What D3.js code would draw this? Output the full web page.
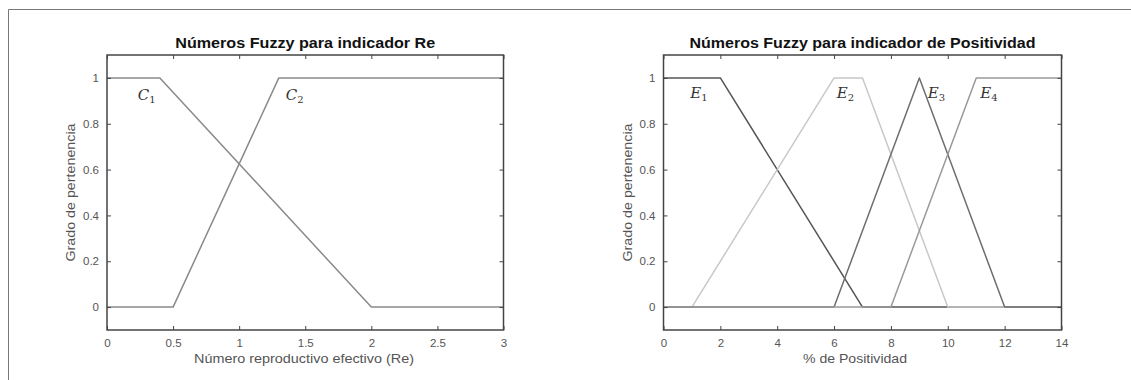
<!DOCTYPE html>
<html>
<head>
<meta charset="utf-8">
<script src="https://cdn.jsdelivr.net/npm/d3@7"></script>
<style>
  body { margin: 0; background: #fff; }
  svg text { font-family: "Liberation Sans", Arial, sans-serif; }
</style>
</head>
<body>
<svg id="chart" width="1131" height="380"></svg>
<script>
// membership functions, Re indicator
const reTicks = [0, 0.5, 1, 1.5, 2, 2.5, 3];
const c1 = [[0, 1], [0.4, 1], [2, 0], [3, 0]];
const c2 = [[0, 0], [0.5, 0], [1.3, 1], [3, 1]];

// membership functions, positividad indicator
const posTicks = [0, 2, 4, 6, 8, 10, 12, 14];
const e1 = [[0, 1], [2, 1], [7, 0], [14, 0]];
const e2 = [[0, 0], [1, 0], [6, 1], [7, 1], [10, 0], [14, 0]];
const e3 = [[0, 0], [6, 0], [9, 1], [12, 0], [14, 0]];
const e4 = [[0, 0], [8, 0], [11, 1], [14, 1]];

const yTicks = [0, 0.2, 0.4, 0.6, 0.8, 1];

const svg = d3.select('#chart');

// outer frame (only top + left are in view)
svg.append('path')
  .attr('d', 'M8.5,380 V9.5 H1131')
  .attr('fill', 'none')
  .attr('stroke', '#777')
  .attr('stroke-width', 1);

function panel(opt) {
  const x = d3.scaleLinear().domain(opt.xDomain).range([opt.left, opt.right]);
  const y = d3.scaleLinear().domain([-0.1, 1.1]).range([330, 55]);
  const g = svg.append('g');

  // series
  const line = d3.line().x(d => x(d[0])).y(d => y(d[1]));
  opt.series.forEach(s => {
    g.append('path')
      .datum(s.data)
      .attr('d', line)
      .attr('fill', 'none')
      .attr('stroke', s.color)
      .attr('stroke-width', 1.5)
      .attr('stroke-linejoin', 'round');
  });

  // axes, MATLAB-like box with inward ticks on every side
  const tick = 4;
  const styleAxis = a => {
    a.select('.domain').remove();
    a.selectAll('.tick line').attr('stroke', '#444');
    a.selectAll('.tick text').attr('fill', '#555').attr('font-size', 11.5);
  };
  g.append('g').attr('transform', 'translate(0,330)')
    .call(d3.axisBottom(x).tickValues(opt.xTicks).tickSizeInner(-tick).tickPadding(9).tickFormat(d3.format('')))
    .call(styleAxis);
  g.append('g').attr('transform', 'translate(0,55)')
    .call(d3.axisTop(x).tickValues(opt.xTicks).tickSizeInner(-tick).tickFormat(''))
    .call(styleAxis);
  g.append('g').attr('transform', `translate(${opt.left},0)`)
    .call(d3.axisLeft(y).tickValues(yTicks).tickSizeInner(-tick).tickPadding(8).tickFormat(d3.format('')))
    .call(styleAxis);
  g.append('g').attr('transform', `translate(${opt.right},0)`)
    .call(d3.axisRight(y).tickValues(yTicks).tickSizeInner(-tick).tickFormat(''))
    .call(styleAxis);

  g.append('rect')
    .attr('x', opt.left).attr('y', 55)
    .attr('width', opt.right - opt.left).attr('height', 275)
    .attr('fill', 'none')
    .attr('stroke', '#444')
    .attr('stroke-width', 1.5);

  // curve labels
  opt.labels.forEach(l => {
    const t = g.append('text')
      .attr('x', x(l.x)).attr('y', y(l.y))
      .attr('text-anchor', 'middle')
      .attr('dominant-baseline', 'middle')
      .style('font-family', '"DejaVu Serif", "Liberation Serif", serif')
      .style('font-style', 'italic')
      .attr('font-size', 15)
      .attr('fill', '#333');
    t.append('tspan').text(l.name);
    t.append('tspan').text(l.sub)
      .attr('font-size', 10).attr('dy', 4)
      .style('font-style', 'normal');
  });

  // title and axis labels (source image is horizontally stretched -> fit widths)
  g.append('text')
    .attr('x', (opt.left + opt.right) / 2).attr('y', 48)
    .attr('text-anchor', 'middle')
    .attr('font-size', 14).attr('font-weight', 'bold')
    .attr('fill', '#111')
    .attr('textLength', opt.titleW).attr('lengthAdjust', 'spacingAndGlyphs')
    .text(opt.title);
  g.append('text')
    .attr('x', opt.xLabelX).attr('y', 363)
    .attr('text-anchor', 'middle')
    .attr('font-size', 13).attr('fill', '#555')
    .attr('textLength', opt.xLabelW).attr('lengthAdjust', 'spacingAndGlyphs')
    .text(opt.xLabel);
  g.append('text')
    .attr('transform', `translate(${opt.left - 32},${y(0.5)}) rotate(-90)`)
    .attr('text-anchor', 'middle')
    .attr('font-size', 13).attr('fill', '#555')
    .attr('textLength', 138).attr('lengthAdjust', 'spacingAndGlyphs')
    .text('Grado de pertenencia');
}

panel({
  left: 107, right: 503.5,
  xDomain: [0, 3], xTicks: reTicks,
  title: 'Números Fuzzy para indicador Re', titleW: 260,
  xLabel: 'Número reproductivo efectivo (Re)', xLabelX: 304, xLabelW: 220,
  series: [
    { data: c1, color: '#8a8a8a' },
    { data: c2, color: '#8a8a8a' }
  ],
  labels: [
    { name: 'C', sub: '1', x: 0.3, y: 0.92 },
    { name: 'C', sub: '2', x: 1.42, y: 0.92 }
  ]
});

panel({
  left: 663.5, right: 1061.5,
  xDomain: [0, 14], xTicks: posTicks,
  title: 'Números Fuzzy para indicador de Positividad', titleW: 346,
  xLabel: '% de Positividad', xLabelX: 855, xLabelW: 104,
  series: [
    { data: e1, color: '#555' },
    { data: e2, color: '#c8c8c8' },
    { data: e3, color: '#6e6e6e' },
    { data: e4, color: '#999' }
  ],
  labels: [
    { name: 'E', sub: '1', x: 1.25, y: 0.93 },
    { name: 'E', sub: '2', x: 6.4, y: 0.93 },
    { name: 'E', sub: '3', x: 9.6, y: 0.93 },
    { name: 'E', sub: '4', x: 11.45, y: 0.93 }
  ]
});
</script>
</body>
</html>
